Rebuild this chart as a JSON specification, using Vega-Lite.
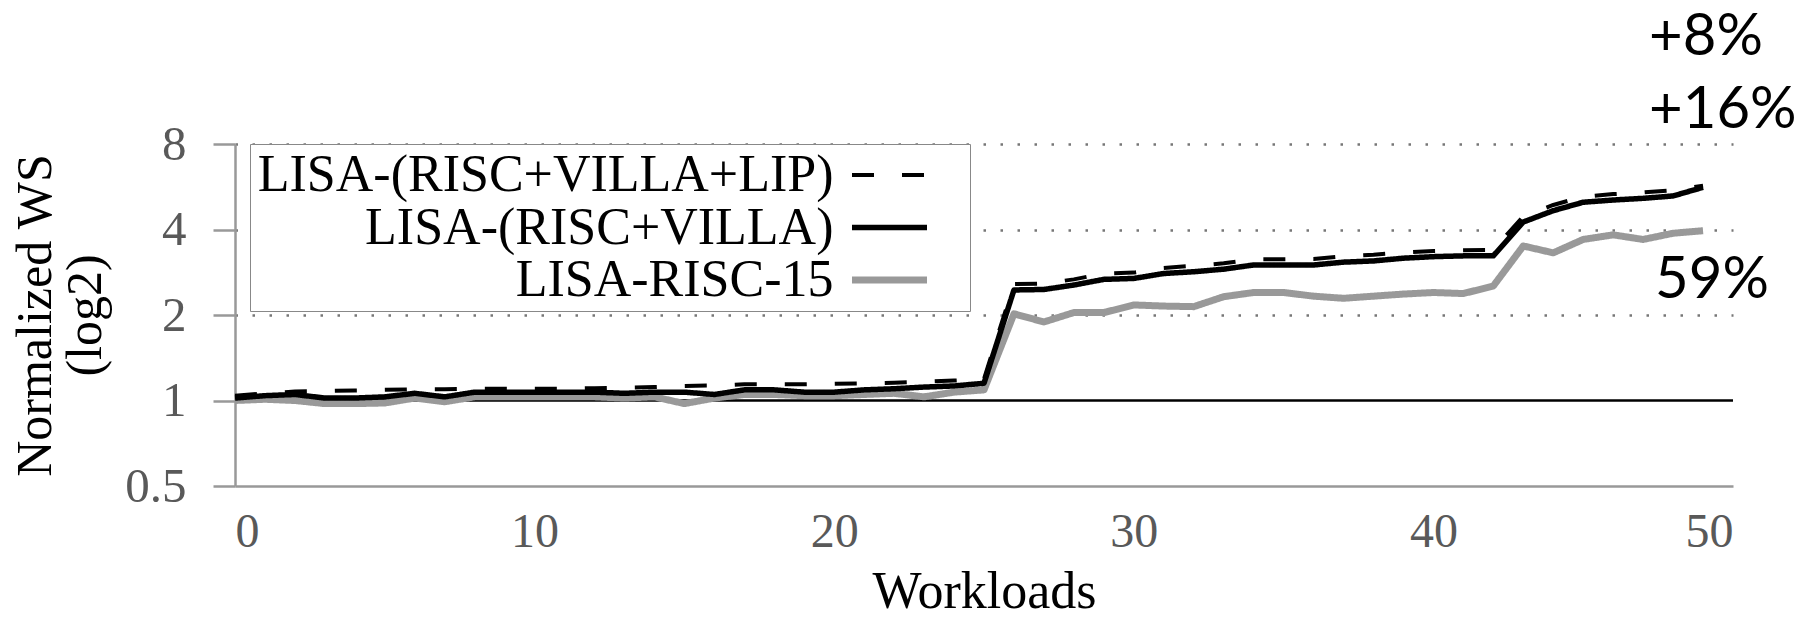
{
  "$schema": "https://vega.github.io/schema/vega-lite/v6.json",
  "width": 1498,
  "height": 342,
  "autosize": {"type": "none"},
  "padding": {"left": 235, "top": 144, "right": 75, "bottom": 131},
  "background": "white",
  "config": {"view": {"stroke": null}},
  "datasets": {
    "perf": [
      {"workload":0,"series":"LISA-RISC-15","ws":1.00},{"workload":1,"series":"LISA-RISC-15","ws":1.01},{"workload":2,"series":"LISA-RISC-15","ws":1.00},{"workload":3,"series":"LISA-RISC-15","ws":0.975},{"workload":4,"series":"LISA-RISC-15","ws":0.975},{"workload":5,"series":"LISA-RISC-15","ws":0.98},{"workload":6,"series":"LISA-RISC-15","ws":1.02},{"workload":7,"series":"LISA-RISC-15","ws":0.99},{"workload":8,"series":"LISA-RISC-15","ws":1.03},{"workload":9,"series":"LISA-RISC-15","ws":1.03},
      {"workload":10,"series":"LISA-RISC-15","ws":1.03},{"workload":11,"series":"LISA-RISC-15","ws":1.03},{"workload":12,"series":"LISA-RISC-15","ws":1.03},{"workload":13,"series":"LISA-RISC-15","ws":1.02},{"workload":14,"series":"LISA-RISC-15","ws":1.03},{"workload":15,"series":"LISA-RISC-15","ws":0.975},{"workload":16,"series":"LISA-RISC-15","ws":1.02},{"workload":17,"series":"LISA-RISC-15","ws":1.05},{"workload":18,"series":"LISA-RISC-15","ws":1.05},{"workload":19,"series":"LISA-RISC-15","ws":1.04},
      {"workload":20,"series":"LISA-RISC-15","ws":1.04},{"workload":21,"series":"LISA-RISC-15","ws":1.05},{"workload":22,"series":"LISA-RISC-15","ws":1.06},{"workload":23,"series":"LISA-RISC-15","ws":1.03},{"workload":24,"series":"LISA-RISC-15","ws":1.07},{"workload":25,"series":"LISA-RISC-15","ws":1.09},{"workload":26,"series":"LISA-RISC-15","ws":2.02},{"workload":27,"series":"LISA-RISC-15","ws":1.89},{"workload":28,"series":"LISA-RISC-15","ws":2.04},{"workload":29,"series":"LISA-RISC-15","ws":2.04},
      {"workload":30,"series":"LISA-RISC-15","ws":2.17},{"workload":31,"series":"LISA-RISC-15","ws":2.15},{"workload":32,"series":"LISA-RISC-15","ws":2.14},{"workload":33,"series":"LISA-RISC-15","ws":2.32},{"workload":34,"series":"LISA-RISC-15","ws":2.40},{"workload":35,"series":"LISA-RISC-15","ws":2.40},{"workload":36,"series":"LISA-RISC-15","ws":2.33},{"workload":37,"series":"LISA-RISC-15","ws":2.29},{"workload":38,"series":"LISA-RISC-15","ws":2.33},{"workload":39,"series":"LISA-RISC-15","ws":2.37},
      {"workload":40,"series":"LISA-RISC-15","ws":2.40},{"workload":41,"series":"LISA-RISC-15","ws":2.38},{"workload":42,"series":"LISA-RISC-15","ws":2.53},{"workload":43,"series":"LISA-RISC-15","ws":3.50},{"workload":44,"series":"LISA-RISC-15","ws":3.31},{"workload":45,"series":"LISA-RISC-15","ws":3.69},{"workload":46,"series":"LISA-RISC-15","ws":3.83},{"workload":47,"series":"LISA-RISC-15","ws":3.69},{"workload":48,"series":"LISA-RISC-15","ws":3.88},{"workload":49,"series":"LISA-RISC-15","ws":3.96},

      {"workload":0,"series":"LISA-(RISC+VILLA)","ws":1.02},{"workload":1,"series":"LISA-(RISC+VILLA)","ws":1.04},{"workload":2,"series":"LISA-(RISC+VILLA)","ws":1.05},{"workload":3,"series":"LISA-(RISC+VILLA)","ws":1.02},{"workload":4,"series":"LISA-(RISC+VILLA)","ws":1.02},{"workload":5,"series":"LISA-(RISC+VILLA)","ws":1.03},{"workload":6,"series":"LISA-(RISC+VILLA)","ws":1.06},{"workload":7,"series":"LISA-(RISC+VILLA)","ws":1.03},{"workload":8,"series":"LISA-(RISC+VILLA)","ws":1.07},{"workload":9,"series":"LISA-(RISC+VILLA)","ws":1.07},
      {"workload":10,"series":"LISA-(RISC+VILLA)","ws":1.07},{"workload":11,"series":"LISA-(RISC+VILLA)","ws":1.07},{"workload":12,"series":"LISA-(RISC+VILLA)","ws":1.07},{"workload":13,"series":"LISA-(RISC+VILLA)","ws":1.06},{"workload":14,"series":"LISA-(RISC+VILLA)","ws":1.07},{"workload":15,"series":"LISA-(RISC+VILLA)","ws":1.07},{"workload":16,"series":"LISA-(RISC+VILLA)","ws":1.05},{"workload":17,"series":"LISA-(RISC+VILLA)","ws":1.09},{"workload":18,"series":"LISA-(RISC+VILLA)","ws":1.09},{"workload":19,"series":"LISA-(RISC+VILLA)","ws":1.07},
      {"workload":20,"series":"LISA-(RISC+VILLA)","ws":1.07},{"workload":21,"series":"LISA-(RISC+VILLA)","ws":1.09},{"workload":22,"series":"LISA-(RISC+VILLA)","ws":1.10},{"workload":23,"series":"LISA-(RISC+VILLA)","ws":1.115},{"workload":24,"series":"LISA-(RISC+VILLA)","ws":1.125},{"workload":25,"series":"LISA-(RISC+VILLA)","ws":1.15},{"workload":26,"series":"LISA-(RISC+VILLA)","ws":2.45},{"workload":27,"series":"LISA-(RISC+VILLA)","ws":2.46},{"workload":28,"series":"LISA-(RISC+VILLA)","ws":2.55},{"workload":29,"series":"LISA-(RISC+VILLA)","ws":2.67},
      {"workload":30,"series":"LISA-(RISC+VILLA)","ws":2.69},{"workload":31,"series":"LISA-(RISC+VILLA)","ws":2.80},{"workload":32,"series":"LISA-(RISC+VILLA)","ws":2.84},{"workload":33,"series":"LISA-(RISC+VILLA)","ws":2.90},{"workload":34,"series":"LISA-(RISC+VILLA)","ws":3.00},{"workload":35,"series":"LISA-(RISC+VILLA)","ws":3.00},{"workload":36,"series":"LISA-(RISC+VILLA)","ws":3.00},{"workload":37,"series":"LISA-(RISC+VILLA)","ws":3.07},{"workload":38,"series":"LISA-(RISC+VILLA)","ws":3.10},{"workload":39,"series":"LISA-(RISC+VILLA)","ws":3.17},
      {"workload":40,"series":"LISA-(RISC+VILLA)","ws":3.21},{"workload":41,"series":"LISA-(RISC+VILLA)","ws":3.23},{"workload":42,"series":"LISA-(RISC+VILLA)","ws":3.23},{"workload":43,"series":"LISA-(RISC+VILLA)","ws":4.25},{"workload":44,"series":"LISA-(RISC+VILLA)","ws":4.66},{"workload":45,"series":"LISA-(RISC+VILLA)","ws":4.99},{"workload":46,"series":"LISA-(RISC+VILLA)","ws":5.08},{"workload":47,"series":"LISA-(RISC+VILLA)","ws":5.15},{"workload":48,"series":"LISA-(RISC+VILLA)","ws":5.25},{"workload":49,"series":"LISA-(RISC+VILLA)","ws":5.63},

      {"workload":0,"series":"LISA-(RISC+VILLA+LIP)","ws":1.04},{"workload":1,"series":"LISA-(RISC+VILLA+LIP)","ws":1.06},{"workload":2,"series":"LISA-(RISC+VILLA+LIP)","ws":1.075},{"workload":3,"series":"LISA-(RISC+VILLA+LIP)","ws":1.08},{"workload":4,"series":"LISA-(RISC+VILLA+LIP)","ws":1.085},{"workload":5,"series":"LISA-(RISC+VILLA+LIP)","ws":1.09},{"workload":6,"series":"LISA-(RISC+VILLA+LIP)","ws":1.095},{"workload":7,"series":"LISA-(RISC+VILLA+LIP)","ws":1.096},{"workload":8,"series":"LISA-(RISC+VILLA+LIP)","ws":1.10},{"workload":9,"series":"LISA-(RISC+VILLA+LIP)","ws":1.10},
      {"workload":10,"series":"LISA-(RISC+VILLA+LIP)","ws":1.10},{"workload":11,"series":"LISA-(RISC+VILLA+LIP)","ws":1.10},{"workload":12,"series":"LISA-(RISC+VILLA+LIP)","ws":1.105},{"workload":13,"series":"LISA-(RISC+VILLA+LIP)","ws":1.11},{"workload":14,"series":"LISA-(RISC+VILLA+LIP)","ws":1.115},{"workload":15,"series":"LISA-(RISC+VILLA+LIP)","ws":1.125},{"workload":16,"series":"LISA-(RISC+VILLA+LIP)","ws":1.13},{"workload":17,"series":"LISA-(RISC+VILLA+LIP)","ws":1.14},{"workload":18,"series":"LISA-(RISC+VILLA+LIP)","ws":1.14},{"workload":19,"series":"LISA-(RISC+VILLA+LIP)","ws":1.14},
      {"workload":20,"series":"LISA-(RISC+VILLA+LIP)","ws":1.145},{"workload":21,"series":"LISA-(RISC+VILLA+LIP)","ws":1.15},{"workload":22,"series":"LISA-(RISC+VILLA+LIP)","ws":1.155},{"workload":23,"series":"LISA-(RISC+VILLA+LIP)","ws":1.165},{"workload":24,"series":"LISA-(RISC+VILLA+LIP)","ws":1.175},{"workload":25,"series":"LISA-(RISC+VILLA+LIP)","ws":1.19},{"workload":26,"series":"LISA-(RISC+VILLA+LIP)","ws":2.57},{"workload":27,"series":"LISA-(RISC+VILLA+LIP)","ws":2.58},{"workload":28,"series":"LISA-(RISC+VILLA+LIP)","ws":2.67},{"workload":29,"series":"LISA-(RISC+VILLA+LIP)","ws":2.80},
      {"workload":30,"series":"LISA-(RISC+VILLA+LIP)","ws":2.82},{"workload":31,"series":"LISA-(RISC+VILLA+LIP)","ws":2.93},{"workload":32,"series":"LISA-(RISC+VILLA+LIP)","ws":2.98},{"workload":33,"series":"LISA-(RISC+VILLA+LIP)","ws":3.04},{"workload":34,"series":"LISA-(RISC+VILLA+LIP)","ws":3.14},{"workload":35,"series":"LISA-(RISC+VILLA+LIP)","ws":3.14},{"workload":36,"series":"LISA-(RISC+VILLA+LIP)","ws":3.15},{"workload":37,"series":"LISA-(RISC+VILLA+LIP)","ws":3.22},{"workload":38,"series":"LISA-(RISC+VILLA+LIP)","ws":3.26},{"workload":39,"series":"LISA-(RISC+VILLA+LIP)","ws":3.32},
      {"workload":40,"series":"LISA-(RISC+VILLA+LIP)","ws":3.36},{"workload":41,"series":"LISA-(RISC+VILLA+LIP)","ws":3.38},{"workload":42,"series":"LISA-(RISC+VILLA+LIP)","ws":3.39},{"workload":43,"series":"LISA-(RISC+VILLA+LIP)","ws":4.45},{"workload":44,"series":"LISA-(RISC+VILLA+LIP)","ws":4.88},{"workload":45,"series":"LISA-(RISC+VILLA+LIP)","ws":5.22},{"workload":46,"series":"LISA-(RISC+VILLA+LIP)","ws":5.33},{"workload":47,"series":"LISA-(RISC+VILLA+LIP)","ws":5.40},{"workload":48,"series":"LISA-(RISC+VILLA+LIP)","ws":5.50},{"workload":49,"series":"LISA-(RISC+VILLA+LIP)","ws":5.70}
    ],
    "notes": [
      {"label": "+8%", "workload": 47.2, "ws": 16.4},
      {"label": "+16%", "workload": 47.2, "ws": 9.1},
      {"label": "59%", "workload": 47.4, "ws": 2.30}
    ]
  },
  "layer": [
    {
      "data": {"values": [{}]},
      "mark": {"type": "rule", "color": "black", "strokeWidth": 2.5},
      "encoding": {"y": {"datum": 1, "type": "quantitative"}}
    },
    {
      "data": {"name": "perf"},
      "mark": {"type": "line", "strokeCap": "butt", "strokeJoin": "round"},
      "encoding": {
        "x": {
          "field": "workload", "type": "quantitative",
          "scale": {"domain": [0, 50], "nice": false, "zero": false},
          "axis": {
            "values": [0, 10, 20, 30, 40, 50], "ticks": false, "grid": false,
            "domainColor": "#999999", "domainWidth": 2.5,
            "labelFont": "Liberation Serif", "labelFontSize": 48, "labelColor": "#595959", "labelPadding": 22,
            "title": "Workloads", "titleFont": "Liberation Serif", "titleFontSize": 52, "titleFontWeight": "normal", "titleColor": "black", "titlePadding": 10
          }
        },
        "y": {
          "field": "ws", "type": "quantitative",
          "scale": {"type": "log", "base": 2, "domain": [0.5, 8], "nice": false},
          "axis": {
            "values": [0.5, 1, 2, 4, 8], "format": "~g",
            "tickSize": 22, "tickColor": "#999999", "tickWidth": 2.5,
            "domainColor": "#999999", "domainWidth": 2.5,
            "labelFont": "Liberation Serif", "labelFontSize": 49, "labelColor": "#595959", "labelPadding": 27,
            "grid": true, "gridDash": [2.5, 14.5], "gridWidth": 2.5, "gridColor": "#777777",
            "gridOpacity": {"condition": {"test": "datum.value >= 2", "value": 1}, "value": 0},
            "title": ["Normalized WS", "(log2)"], "titleFont": "Liberation Serif", "titleFontSize": 50, "titleFontWeight": "normal", "titleColor": "black", "titleLineHeight": 50, "titlePadding": 14
          }
        },
        "color": {
          "field": "series", "type": "nominal",
          "scale": {"domain": ["LISA-(RISC+VILLA+LIP)", "LISA-(RISC+VILLA)", "LISA-RISC-15"], "range": ["#000000", "#000000", "#999999"]},
          "legend": {
            "title": null, "orient": "none", "legendX": 15, "legendY": 0,
            "symbolType": "M-2.5,0H2.5M4.1,0", "symbolSize": 900, "rowPadding": 0.5,
            "symbolOffset": 608.5,
            "labelAlign": "right", "labelOffset": -82, "labelFont": "Liberation Serif", "labelFontSize": 52, "labelColor": "black", "labelLimit": 0,
            "padding": 5, "strokeColor": "#888888", "fillColor": "white"
          }
        },
        "strokeDash": {
          "field": "series", "type": "nominal",
          "scale": {"domain": ["LISA-(RISC+VILLA+LIP)", "LISA-(RISC+VILLA)", "LISA-RISC-15"], "range": [[22, 28], [1, 0], [1, 0]]}
        },
        "strokeWidth": {
          "field": "series", "type": "nominal",
          "scale": {"type": "ordinal", "domain": ["LISA-(RISC+VILLA+LIP)", "LISA-(RISC+VILLA)", "LISA-RISC-15"], "range": [4, 5.5, 7]}
        }
      }
    },
    {
      "data": {"name": "notes"},
      "mark": {"type": "text", "align": "left", "baseline": "alphabetic", "font": "Lato", "fontSize": 58, "color": "black"},
      "encoding": {
        "x": {"field": "workload", "type": "quantitative"},
        "y": {"field": "ws", "type": "quantitative"},
        "text": {"field": "label"}
      }
    }
  ]
}
